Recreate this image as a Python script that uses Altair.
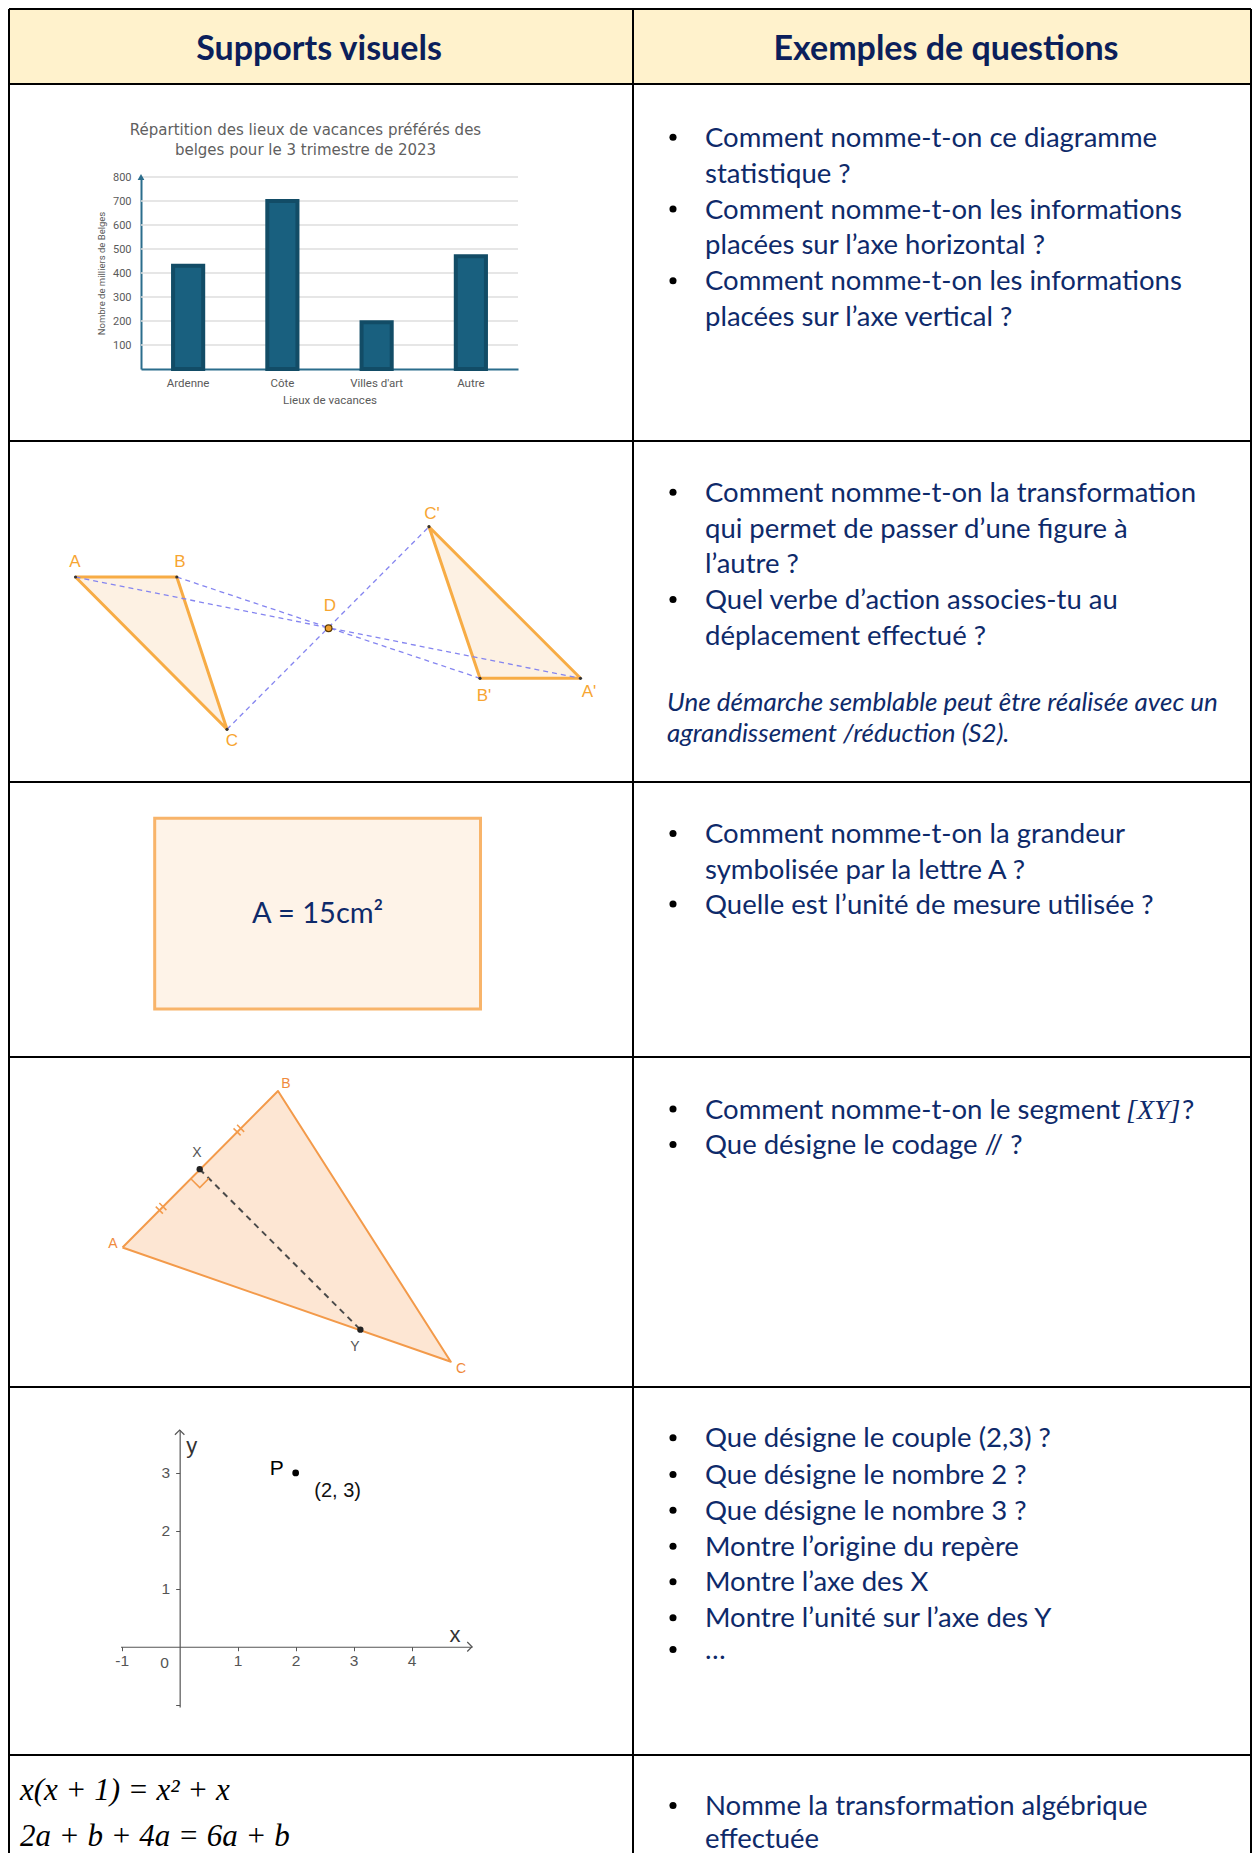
import math
import altair as alt
import pandas as pd

# ---------------- canvas (page pixels, 8px body margin) ----------------
W, H = 1244, 1845
OX, OY = 8, 8

NAVY = "#0e2a6a"
HEAD = "#0b1f5b"

# ---------------- content ----------------
HEADERS = ["Supports visuels", "Exemples de questions"]

BAR_TITLE = ["Répartition des lieux de vacances préférés des",
             "belges pour le 3 trimestre de 2023"]
BAR_CATS = ["Ardenne", "Côte", "Villes d'art", "Autre"]
BAR_VALS = [430, 700, 195, 470]
BAR_TICKS = [100, 200, 300, 400, 500, 600, 700, 800]
BAR_YTITLE = "Nombre de milliers de Belges"
BAR_XTITLE = "Lieux de vacances"

Q_LINES = [
    "Comment nomme-t-on ce diagramme", "statistique ?",
    "Comment nomme-t-on les informations", "placées sur l’axe horizontal ?",
    "Comment nomme-t-on les informations", "placées sur l’axe vertical ?",
    "Comment nomme-t-on la transformation", "qui permet de passer d’une figure à",
    "l’autre ?", "Quel verbe d’action associes-tu au", "déplacement effectué ?",
    "Comment nomme-t-on la grandeur", "symbolisée par la lettre A ?",
    "Quelle est l’unité de mesure utilisée ?",
    "Comment nomme-t-on le segment", "Que désigne le codage // ?",
    "Que désigne le couple (2,3) ?", "Que désigne le nombre 2 ?",
    "Que désigne le nombre 3 ?", "Montre l’origine du repère",
    "Montre l’axe des X", "Montre l’unité sur l’axe des Y", "…",
    "Nomme la transformation algébrique", "effectuée",
]
Q_BULLET = [1, 0, 1, 0, 1, 0,
            1, 0, 0, 1, 0,
            1, 0, 1,
            1, 1,
            1, 1, 1, 1, 1, 1, 1,
            1, 0]
ITALIC_NOTE = ["Une démarche semblable peut être réalisée avec un",
               "agrandissement /réduction (S2)."]
SEG_MATH = ["[XY]"]
SEG_END = ["?"]
EQUATIONS = ["x(x + 1) = x² + x", "2a + b + 4a = 6a + b"]
AREA_TEXT = ["A = 15cm²"]

# symmetry figure (row 2)
SYM_NAMES = ["A", "B", "C", "A'", "B'", "C'", "D"]
SYM_X = [75.5, 176.8, 227.0, 580.5, 480.0, 429.0, 328.6]
SYM_Y = [577.0, 577.0, 729.3, 678.3, 678.3, 526.7, 628.3]
SYM_LABEL_X = [75, 180, 232, 589, 484, 432, 330]
SYM_LABEL_Y = [562, 562, 741, 692, 696, 514, 606]

# triangle (row 4)
TRI_NAMES = ["A", "B", "C"]
TRI_X = [122.5, 278.0, 450.8]
TRI_Y = [1247.5, 1091.0, 1361.7]
TRI_LABEL_X = [113, 286, 461]
TRI_LABEL_Y = [1244, 1084, 1369]
SEG_NAMES = ["X", "Y"]
SEG_X = [199.7, 360.4]
SEG_Y = [1169.2, 1329.7]
SEG_LABEL_X = [197, 355]
SEG_LABEL_Y = [1153, 1347]

# rectangle (row 3)
RECT_X = [154.7, 480.5]
RECT_Y = [818.2, 1009.0]

# repère (row 5)
PLANE_XT = [-1, 1, 2, 3, 4]
PLANE_YT = [-1, 1, 2, 3]
P_PT = [2, 3]
PLANE_XDOM = [-1.02, 5.04]
PLANE_YDOM = [-1.04, 3.74]

# ---------------- layout ----------------
TABLE_COLS = [9, 633, 1251]
TABLE_ROWS = [9, 84, 441, 782, 1057, 1387, 1755]
TABLE_BOTTOM = 1853
HEADER_CX = [319, 946]
HEADER_BASE = 60
Q_BASE = [146.7, 182.6, 218.5, 254.4, 290.3, 326.2,
          501.7, 537.5, 573.3, 609.0, 644.7,
          843.0, 878.5, 913.5,
          1118.5, 1154.0,
          1447.3, 1484.0, 1519.7, 1555.7, 1591.3, 1627.3, 1659.0,
          1815.0, 1848.0]
Q_X, BUL_X = 705, 673
ITALIC_BASE = [710.5, 742.0]
ITALIC_X = 667
EQ_BASE = [1799.5, 1845.5]
EQ_X = 20
BAR_TITLE_BASE = [135, 155]
BAR_TITLE_CX = 305.5
BAR_PX = [141, 518]
BAR_PY = [369, 177]
PLANE_PX = [120.5, 472]
PLANE_PY = [1707, 1430]

# ---------------- shared page scales ----------------
SX = alt.Scale(domain=[OX, OX + W], nice=False, zero=False)
SY = alt.Scale(domain=[OY, OY + H], nice=False, zero=False, reverse=True)


def X(f):
    return alt.X(f"{f}:Q", scale=SX, axis=None)


def Y(f):
    return alt.Y(f"{f}:Q", scale=SY, axis=None)


def df(**cols):
    return pd.DataFrame(cols)


layers = []

# header background
layers.append(alt.Chart(df(x=[TABLE_COLS[0]], x2=[TABLE_COLS[2]], y=[TABLE_ROWS[0]], y2=[TABLE_ROWS[1]]))
              .mark_rect(fill="#FFF2CC").encode(x=X("x"), x2=alt.X2("x2"), y=Y("y"), y2=alt.Y2("y2")))

# rectangle row 3
layers.append(alt.Chart(df(x=[RECT_X[0]], x2=[RECT_X[1]], y=[RECT_Y[0]], y2=[RECT_Y[1]]))
              .mark_rect(fill="#FEF3E8", stroke="#F8B46A", strokeWidth=3)
              .encode(x=X("x"), x2=alt.X2("x2"), y=Y("y"), y2=alt.Y2("y2")))


def poly_rows(name, xs, ys):
    pts = list(zip(xs, ys)) + [(xs[0], ys[0])]
    return [{"shape": name, "i": i, "x": p[0], "y": p[1]} for i, p in enumerate(pts)]


sym_poly = pd.DataFrame(poly_rows("ABC", SYM_X[0:3], SYM_Y[0:3]) +
                        poly_rows("A'B'C'", SYM_X[3:6], SYM_Y[3:6]))
layers.append(alt.Chart(sym_poly).mark_line(fill="#FDF1E3", stroke="#F7AC45", strokeWidth=3, strokeJoin="round")
              .encode(x=X("x"), y=Y("y"), detail="shape:N", order="i:Q"))

tri_poly = pd.DataFrame(poly_rows("ABC", TRI_X, TRI_Y))
layers.append(alt.Chart(tri_poly).mark_line(fill="#FDE6D3", stroke="#F39A4A", strokeWidth=2, strokeJoin="round")
              .encode(x=X("x"), y=Y("y"), detail="shape:N", order="i:Q"))

# dashed lines through D
layers.append(alt.Chart(df(x=SYM_X[0:3], y=SYM_Y[0:3], x2=SYM_X[3:6], y2=SYM_Y[3:6]))
              .mark_rule(color="#8585F0", strokeDash=[5, 4], strokeWidth=1.3)
              .encode(x=X("x"), y=Y("y"), x2=alt.X2("x2"), y2=alt.Y2("y2")))

# dashed X-Y
layers.append(alt.Chart(df(x=[SEG_X[0]], y=[SEG_Y[0]], x2=[SEG_X[1]], y2=[SEG_Y[1]]))
              .mark_rule(color="#4a4a4a", strokeDash=[6, 5], strokeWidth=2)
              .encode(x=X("x"), y=Y("y"), x2=alt.X2("x2"), y2=alt.Y2("y2")))

# tick codes on AB
ax, ay, bx, by = TRI_X[0], TRI_Y[0], TRI_X[1], TRI_Y[1]
L = math.hypot(bx - ax, by - ay)
ux, uy = (bx - ax) / L, (by - ay) / L
nx, ny = -uy, ux
tk = []
for (mx, my) in [((ax + SEG_X[0]) / 2, (ay + SEG_Y[0]) / 2), ((bx + SEG_X[0]) / 2, (by + SEG_Y[0]) / 2)]:
    for o in (-2.5, 2.5):
        cx, cy = mx + ux * o, my + uy * o
        tk.append({"x": cx - nx * 5, "y": cy - ny * 5, "x2": cx + nx * 5, "y2": cy + ny * 5})
layers.append(alt.Chart(pd.DataFrame(tk)).mark_rule(color="#F39A4A", strokeWidth=1.5)
              .encode(x=X("x"), y=Y("y"), x2=alt.X2("x2"), y2=alt.Y2("y2")))

# right angle mark at X
xx, xy = SEG_X[0], SEG_Y[0]
la = math.hypot(ax - xx, ay - xy)
a_x, a_y = (ax - xx) / la, (ay - xy) / la
lv = math.hypot(SEG_X[1] - xx, SEG_Y[1] - xy)
v_x, v_y = (SEG_X[1] - xx) / lv, (SEG_Y[1] - xy) / lv
s = 13
sq = [{"i": 0, "x": xx + a_x * s, "y": xy + a_y * s},
      {"i": 1, "x": xx + a_x * s + v_x * s, "y": xy + a_y * s + v_y * s},
      {"i": 2, "x": xx + v_x * s, "y": xy + v_y * s}]
layers.append(alt.Chart(pd.DataFrame(sq)).mark_line(stroke="#F39A4A", strokeWidth=1.5)
              .encode(x=X("x"), y=Y("y"), order="i:Q"))

# points
layers.append(alt.Chart(df(x=SYM_X[0:6], y=SYM_Y[0:6])).mark_circle(size=10, color="#333", opacity=1)
              .encode(x=X("x"), y=Y("y")))
layers.append(alt.Chart(df(x=SYM_X[6:7], y=SYM_Y[6:7])).mark_point(shape="circle", filled=True, fill="#F0A030",
                                                                   stroke="#5a3a00", strokeWidth=1.2, size=45, opacity=1)
              .encode(x=X("x"), y=Y("y")))
layers.append(alt.Chart(df(x=SEG_X, y=SEG_Y)).mark_circle(size=40, color="#222", opacity=1)
              .encode(x=X("x"), y=Y("y")))

# figure labels
layers.append(alt.Chart(df(x=SYM_LABEL_X, y=SYM_LABEL_Y, t=SYM_NAMES))
              .mark_text(font="Liberation Sans", fontSize=17, color="#F7A531", align="center", baseline="middle")
              .encode(x=X("x"), y=Y("y"), text="t:N"))
layers.append(alt.Chart(df(x=TRI_LABEL_X, y=TRI_LABEL_Y, t=TRI_NAMES))
              .mark_text(font="Liberation Sans", fontSize=14, color="#F08A3C", align="center", baseline="middle")
              .encode(x=X("x"), y=Y("y"), text="t:N"))
layers.append(alt.Chart(df(x=SEG_LABEL_X, y=SEG_LABEL_Y, t=SEG_NAMES))
              .mark_text(font="Liberation Sans", fontSize=14, color="#555", align="center", baseline="middle")
              .encode(x=X("x"), y=Y("y"), text="t:N"))

# area text
layers.append(alt.Chart(df(x=[(RECT_X[0] + RECT_X[1]) / 2], y=[923], t=AREA_TEXT))
              .mark_text(font="Lato", fontSize=29, color=NAVY, align="center", baseline="alphabetic")
              .encode(x=X("x"), y=Y("y"), text="t:N"))

# bar chart title
layers.append(alt.Chart(df(x=[BAR_TITLE_CX] * 2, y=BAR_TITLE_BASE, t=BAR_TITLE))
              .mark_text(font="DejaVu Sans", fontSize=15, color="#5f5f5f", align="center", baseline="alphabetic")
              .encode(x=X("x"), y=Y("y"), text="t:N"))

# headers
layers.append(alt.Chart(df(x=HEADER_CX, y=[HEADER_BASE] * 2, t=HEADERS))
              .mark_text(font="Lato", fontSize=34, fontWeight="bold", color=HEAD, align="center", baseline="alphabetic")
              .encode(x=X("x"), y=Y("y"), text="t:N"))

# questions
layers.append(alt.Chart(df(x=[Q_X] * len(Q_LINES), y=Q_BASE, t=Q_LINES))
              .mark_text(font="Lato", fontSize=27.5, color=NAVY, align="left", baseline="alphabetic")
              .encode(x=X("x"), y=Y("y"), text="t:N"))
bul_y = [b - 9.5 for b, f in zip(Q_BASE, Q_BULLET) if f]
layers.append(alt.Chart(df(x=[BUL_X] * len(bul_y), y=bul_y)).mark_circle(size=50, color="black", opacity=1)
              .encode(x=X("x"), y=Y("y")))
layers.append(alt.Chart(df(x=[ITALIC_X] * 2, y=ITALIC_BASE, t=ITALIC_NOTE))
              .mark_text(font="Lato", fontSize=26, fontStyle="italic", color=NAVY, align="left", baseline="alphabetic")
              .encode(x=X("x"), y=Y("y"), text="t:N"))
layers.append(alt.Chart(df(x=[1126], y=[Q_BASE[14]], t=SEG_MATH))
              .mark_text(font="Liberation Serif", fontSize=28, fontStyle="italic", color=NAVY, align="left",
                         baseline="alphabetic")
              .encode(x=X("x"), y=Y("y"), text="t:N"))
layers.append(alt.Chart(df(x=[1182], y=[Q_BASE[14]], t=SEG_END))
              .mark_text(font="Lato", fontSize=27.5, color=NAVY, align="left", baseline="alphabetic")
              .encode(x=X("x"), y=Y("y"), text="t:N"))

# equations
layers.append(alt.Chart(df(x=[EQ_X] * 2, y=EQ_BASE, t=EQUATIONS))
              .mark_text(font="Liberation Serif", fontSize=31, fontStyle="italic", color="black", align="left",
                         baseline="alphabetic")
              .encode(x=X("x"), y=Y("y"), text="t:N"))

# table borders
brd = []
for yv in TABLE_ROWS:
    brd.append({"x": TABLE_COLS[0], "y": yv, "x2": TABLE_COLS[2], "y2": yv})
for xv in TABLE_COLS:
    brd.append({"x": xv, "y": TABLE_ROWS[0], "x2": xv, "y2": TABLE_BOTTOM})
layers.append(alt.Chart(pd.DataFrame(brd)).mark_rule(color="black", strokeWidth=2)
              .encode(x=X("x"), y=Y("y"), x2=alt.X2("x2"), y2=alt.Y2("y2")))

main = alt.layer(*layers)

# ---------------- bar chart (own scales & axes) ----------------
TEAL = "#2b6d8c"
bx_scale = alt.Scale(domain=BAR_CATS, range=[BAR_PX[0] - OX, BAR_PX[1] - OX], paddingInner=0.68, paddingOuter=0.34)
by_scale = alt.Scale(domain=[0, 800], range=[BAR_PY[0] - OY, BAR_PY[1] - OY], nice=False, zero=False)
bx_axis = alt.Axis(orient="bottom", offset=(BAR_PY[0] - OY) - H, ticks=False, grid=False, domainColor=TEAL,
                   domainWidth=2, labelFont="Roboto", labelFontSize=11.5, labelColor="#5a5a5a", labelPadding=8,
                   labelAngle=0, title=BAR_XTITLE, titleFont="Roboto", titleFontSize=11.5,
                   titleFontWeight="normal", titleColor="#5a5a5a", titlePadding=6)
by_axis = alt.Axis(orient="left", offset=-(BAR_PX[0] - OX), values=BAR_TICKS, ticks=False, grid=False,
                   domainColor=TEAL, domainWidth=2, labelFont="Roboto", labelFontSize=11, labelColor="#5a5a5a",
                   labelPadding=10, title=BAR_YTITLE, titleFont="Roboto", titleFontSize=9.5,
                   titleFontWeight="normal", titleColor="#5a5a5a", titlePadding=6)
BX = alt.X("lieu:N", scale=bx_scale, axis=bx_axis)
BY = alt.Y("val:Q", scale=by_scale, axis=by_axis)

grid = (alt.Chart(pd.DataFrame({"val": BAR_TICKS})).mark_rule(color="#dedede", strokeWidth=1.5)
        .encode(y=BY, x=alt.value(BAR_PX[0] - OX), x2=alt.value(BAR_PX[1] - OX)))
bars = (alt.Chart(pd.DataFrame({"lieu": BAR_CATS, "val": BAR_VALS}))
        .mark_bar(fill="#19607f", stroke="#124c66", strokeWidth=4).encode(x=BX, y=BY))
arrow = (alt.Chart(pd.DataFrame({"val": [800]}))
         .mark_point(shape="triangle-up", filled=True, color=TEAL, size=45, opacity=1)
         .encode(y=BY, x=alt.value(BAR_PX[0] - OX)))
bar_layer = alt.layer(grid, bars, arrow)

# ---------------- coordinate plane (own scales & axes) ----------------
pxr = [PLANE_PX[0] - OX, PLANE_PX[1] - OX]
pyr = [PLANE_PY[0] - OY, PLANE_PY[1] - OY]
x0 = pxr[0] + (0 - PLANE_XDOM[0]) / (PLANE_XDOM[1] - PLANE_XDOM[0]) * (pxr[1] - pxr[0])
y0 = pyr[0] + (0 - PLANE_YDOM[0]) / (PLANE_YDOM[1] - PLANE_YDOM[0]) * (pyr[1] - pyr[0])
AXC = "#555"
px_axis = alt.Axis(orient="bottom", offset=y0 - H, values=PLANE_XT, labelExpr="'' + datum.value",
                   tickSize=4, tickColor=AXC, domainColor=AXC, domainWidth=1.2, labelFont="Liberation Sans",
                   labelFontSize=15.5, labelColor="#555", labelPadding=3, grid=False, title=None,
                   labelFlush=False, labelOverlap=False)
py_axis = alt.Axis(orient="left", offset=-x0, values=PLANE_YT,
                   labelExpr="datum.value < 0 ? '' : '' + datum.value",
                   tickSize=4, tickColor=AXC, domainColor=AXC, domainWidth=1.2, labelFont="Liberation Sans",
                   labelFontSize=15.5, labelColor="#555", labelPadding=6, grid=False, title=None,
                   labelFlush=False, labelOverlap=False)
PXE = alt.X("px:Q", scale=alt.Scale(domain=PLANE_XDOM, range=pxr, nice=False, zero=False), axis=px_axis)
PYE = alt.Y("py:Q", scale=alt.Scale(domain=PLANE_YDOM, range=pyr, nice=False, zero=False), axis=py_axis)

p_pt = (alt.Chart(pd.DataFrame({"px": [P_PT[0]], "py": [P_PT[1]]}))
        .mark_circle(size=45, color="black", opacity=1).encode(x=PXE, y=PYE))
x_arrow = (alt.Chart(pd.DataFrame({"px": [PLANE_XDOM[1]], "py": [0]}))
           .mark_point(shape="M-1,-1L0,0L-1,1", filled=False, size=90, stroke=AXC, strokeWidth=1.2, opacity=1)
           .encode(x=PXE, y=PYE))
y_arrow = (alt.Chart(pd.DataFrame({"px": [0], "py": [PLANE_YDOM[1]]}))
           .mark_point(shape="M-1,1L0,0L1,1", filled=False, size=90, stroke=AXC, strokeWidth=1.2, opacity=1)
           .encode(x=PXE, y=PYE))


def ptext(px, py, t, dx, dy, size, color):
    return (alt.Chart(pd.DataFrame({"px": [px], "py": [py], "t": [t]}))
            .mark_text(font="Liberation Sans", fontSize=size, color=color, dx=dx, dy=dy,
                       align="center", baseline="middle")
            .encode(x=PXE, y=PYE, text="t:N"))


plane_layer = alt.layer(
    p_pt, x_arrow, y_arrow,
    ptext(P_PT[0], P_PT[1], "P", -19, -4, 21, "black"),
    ptext(P_PT[0], P_PT[1], "(2, 3)", 42, 18, 20, "#111"),
    ptext(PLANE_XDOM[1], 0, "x", -17, -12, 22, "#333"),
    ptext(0, PLANE_YDOM[1], "y", 12, 16, 22, "#333"),
    ptext(0, 0, "0", -15, 16, 15.5, "#555"),
)

chart = (alt.layer(main, bar_layer, plane_layer)
         .resolve_scale(x="independent", y="independent")
         .properties(width=W, height=H, autosize=alt.AutoSizeParams(type="none"), padding=0,
                     background="white")
         .configure_view(stroke=None))

chart.save("out.html", embed_options={"renderer": "svg", "actions": False})
